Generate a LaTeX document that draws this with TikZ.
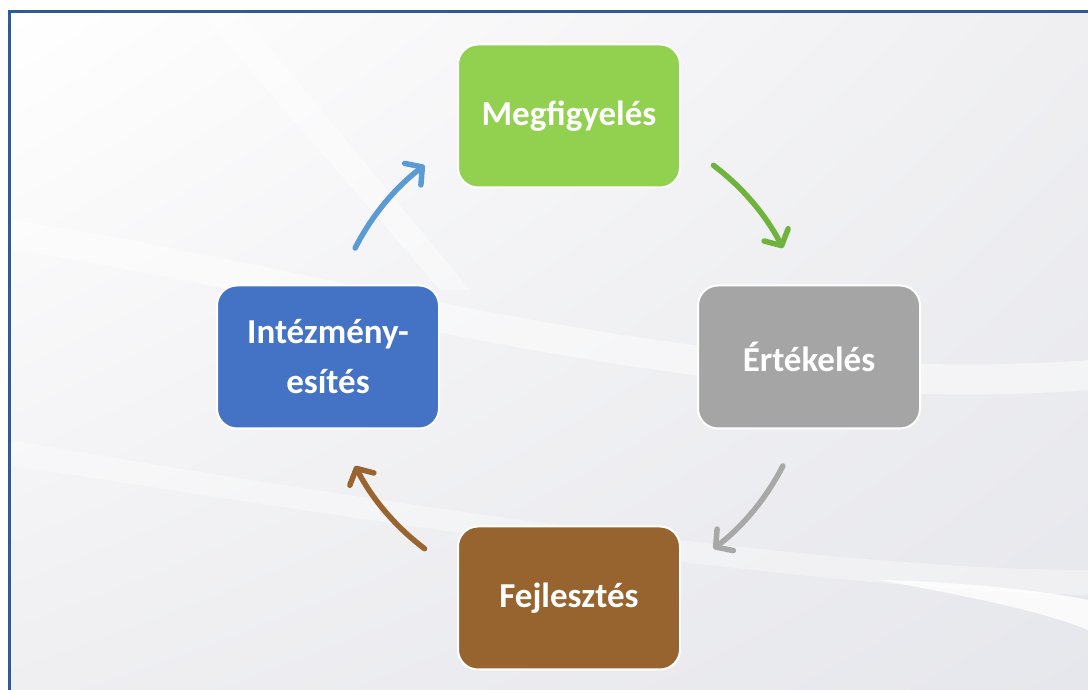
\documentclass[tikz,border=0pt]{standalone}
\usepackage{fontspec}
\setmainfont{Carlito}
\usetikzlibrary{arrows.meta,shadings}

\definecolor{framecol}{HTML}{2E5A96}
\definecolor{obsgreen}{HTML}{92D050}
\definecolor{evalgray}{HTML}{A5A5A5}
\definecolor{devbrown}{HTML}{97632F}
\definecolor{instblue}{HTML}{4472C4}
\definecolor{arrblue}{HTML}{5B9BD5}
\definecolor{arrgreen}{HTML}{6FB33D}
\definecolor{arrgray}{HTML}{A8A8A8}
\definecolor{arrbrown}{HTML}{9A6430}
\definecolor{bglow}{HTML}{E6E7EC}
\definecolor{bgmid}{HTML}{EFEFF2}

\tikzset{
  box/.style={draw=white, line width=2pt, rounded corners=20pt,
    minimum width=222pt, minimum height=143pt, text=white,
    font=\fontsize{35}{50}\selectfont\bfseries, align=center},
  cyclearrow/.style={line width=5.5pt, line cap=round,
    -{Straight Barb[round, length=12pt, width=27pt]}}
}

\begin{document}
\begin{tikzpicture}[x=1pt,y=1pt]
				\useasboundingbox (0,0) rectangle (1088,690);
				% background
				\shade[upper left=white, upper right=bgmid, lower left=bgmid, lower right=bglow]
					(9,0) rectangle (1088,678);
				\fill[white, opacity=0.45] (9,470) .. controls (300,430) and (700,300) .. (1088,330)
					-- (1088,300) .. controls (700,270) and (300,400) .. (9,440) -- cycle;
				\fill[white, opacity=0.35] (9,250) .. controls (300,200) and (800,120) .. (1088,120)
					-- (1088,95) .. controls (800,100) and (300,180) .. (9,225) -- cycle;
				\fill[white, opacity=0.4] (200,678) -- (240,678) -- (470,400) -- (440,400) -- cycle;
				\fill[white, opacity=0.8] (880,110) .. controls (960,95) and (1040,80) .. (1088,60)
					-- (1088,90) .. controls (1040,100) and (960,108) .. cycle;
				% frame
				\draw[framecol, line width=3pt] (9,0) -- (9,678) -- (1088,678);

				\coordinate (c) at (569,333);
				\node[box, fill=obsgreen] (obs) at (569,574) {Megfigyelés};
				\node[box, fill=evalgray] (eval) at (809,333) {Értékelés};
				\node[box, fill=devbrown] (dev) at (569,92) {Fejlesztés};
				\node[box, fill=instblue] (inst) at (328,333) {Intézmény-\\esítés};

				\foreach \s/\e/\col in {53/27/arrgreen, -27/-53/arrgray, -127/-153/arrbrown, 153/127/arrblue}{
					\draw[cyclearrow, \col] ([shift={(\s:240)}]c) arc[start angle=\s, end angle=\e, radius=240];
				}
			\end{tikzpicture}
\end{document}
